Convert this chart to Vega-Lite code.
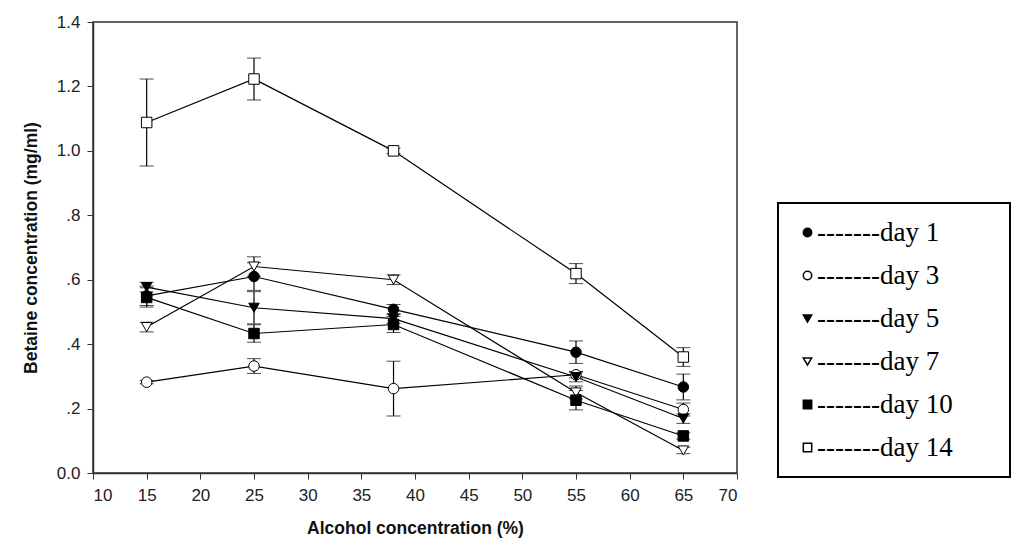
{
  "$schema": "https://vega.github.io/schema/vega-lite/v6.json",
  "width": 644,
  "height": 451,
  "autosize": {"type": "none"},
  "padding": {"left": 93, "top": 22, "right": 287, "bottom": 79},
  "background": "white",
  "data": {
    "values": [
      {"day": "day 1", "alcohol": 15, "betaine": 0.55, "sd": 0.03},
      {"day": "day 1", "alcohol": 25, "betaine": 0.61, "sd": 0.043},
      {"day": "day 1", "alcohol": 38, "betaine": 0.508, "sd": 0.015},
      {"day": "day 1", "alcohol": 55, "betaine": 0.375, "sd": 0.035},
      {"day": "day 1", "alcohol": 65, "betaine": 0.267, "sd": 0.04},
      {"day": "day 3", "alcohol": 15, "betaine": 0.282, "sd": 0.005},
      {"day": "day 3", "alcohol": 25, "betaine": 0.332, "sd": 0.023},
      {"day": "day 3", "alcohol": 38, "betaine": 0.262, "sd": 0.085},
      {"day": "day 3", "alcohol": 55, "betaine": 0.305, "sd": 0.01},
      {"day": "day 3", "alcohol": 65, "betaine": 0.197, "sd": 0.02},
      {"day": "day 5", "alcohol": 15, "betaine": 0.577, "sd": 0.015},
      {"day": "day 5", "alcohol": 25, "betaine": 0.513, "sd": 0.05},
      {"day": "day 5", "alcohol": 38, "betaine": 0.479, "sd": 0.015},
      {"day": "day 5", "alcohol": 55, "betaine": 0.298, "sd": 0.015},
      {"day": "day 5", "alcohol": 65, "betaine": 0.169, "sd": 0.015},
      {"day": "day 7", "alcohol": 15, "betaine": 0.453, "sd": 0.015},
      {"day": "day 7", "alcohol": 25, "betaine": 0.641, "sd": 0.03},
      {"day": "day 7", "alcohol": 38, "betaine": 0.6, "sd": 0.015},
      {"day": "day 7", "alcohol": 55, "betaine": 0.25, "sd": 0.02},
      {"day": "day 7", "alcohol": 65, "betaine": 0.07, "sd": 0.01},
      {"day": "day 10", "alcohol": 15, "betaine": 0.545, "sd": 0.03},
      {"day": "day 10", "alcohol": 25, "betaine": 0.433, "sd": 0.027},
      {"day": "day 10", "alcohol": 38, "betaine": 0.461, "sd": 0.025},
      {"day": "day 10", "alcohol": 55, "betaine": 0.226, "sd": 0.03},
      {"day": "day 10", "alcohol": 65, "betaine": 0.115, "sd": 0.01},
      {"day": "day 14", "alcohol": 15, "betaine": 1.088, "sd": 0.135},
      {"day": "day 14", "alcohol": 25, "betaine": 1.223, "sd": 0.065},
      {"day": "day 14", "alcohol": 38, "betaine": 1.0, "sd": 0.008},
      {"day": "day 14", "alcohol": 55, "betaine": 0.619, "sd": 0.031},
      {"day": "day 14", "alcohol": 65, "betaine": 0.36, "sd": 0.029}
    ]
  },
  "encoding": {
    "x": {
      "field": "alcohol",
      "type": "quantitative",
      "title": "Alcohol concentration (%)",
      "scale": {"domain": [10, 70], "nice": false},
      "axis": {"values": [10, 15, 20, 25, 30, 35, 40, 45, 50, 55, 60, 65, 70]}
    },
    "y": {
      "field": "betaine",
      "type": "quantitative",
      "title": "Betaine concentration (mg/ml)",
      "scale": {"domain": [0, 1.4], "nice": false},
      "axis": {
        "values": [0, 0.2, 0.4, 0.6, 0.8, 1.0, 1.2, 1.4],
        "labelExpr": "datum.value >= 1 || datum.value == 0 ? format(datum.value, '.1f') : replace(format(datum.value, '.1f'), '0.', '.')"
      }
    }
  },
  "layer": [
    {
      "mark": {"type": "line", "color": "black", "strokeWidth": 1.2},
      "encoding": {
        "detail": {"field": "day"},
        "order": {"field": "alcohol"}
      }
    },
    {
      "mark": {"type": "errorbar", "color": "black", "ticks": {"size": 14, "color": "black"}, "rule": {"strokeWidth": 1.2}},
      "encoding": {
        "y": {"field": "betaine", "type": "quantitative", "title": "Betaine concentration (mg/ml)"},
        "yError": {"field": "sd"},
        "detail": {"field": "day"}
      }
    },
    {
      "mark": {"type": "point", "filled": true, "stroke": "black", "strokeWidth": 1, "size": 110, "opacity": 1},
      "encoding": {
        "shape": {
          "field": "day",
          "type": "nominal",
          "title": null,
          "sort": ["day 1", "day 3", "day 5", "day 7", "day 10", "day 14"],
          "scale": {
            "domain": ["day 1", "day 3", "day 5", "day 7", "day 10", "day 14"],
            "range": ["circle", "circle", "triangle-down", "triangle-down", "square", "square"]
          },
          "legend": {
            "labelExpr": "'-------' + datum.label + '\u2003\u00a0\u00a0\u200b'",
            "encode": {"symbols": {"update": {"stroke": {"value": "#555"}, "strokeWidth": {"value": 1}}}}
          }
        },
        "fill": {
          "field": "day",
          "type": "nominal",
          "title": null,
          "sort": ["day 1", "day 3", "day 5", "day 7", "day 10", "day 14"],
          "scale": {
            "domain": ["day 1", "day 3", "day 5", "day 7", "day 10", "day 14"],
            "range": ["black", "white", "black", "white", "black", "white"]
          },
          "legend": {
            "labelExpr": "'-------' + datum.label + '\u2003\u00a0\u00a0\u200b'",
            "encode": {"symbols": {"update": {"stroke": {"value": "#555"}, "strokeWidth": {"value": 1}}}}
          }
        }
      }
    }
  ],
  "config": {
    "view": {"stroke": "#333", "strokeWidth": 1.5},
    "axis": {
      "grid": false,
      "domainColor": "#333",
      "domainWidth": 1.5,
      "tickColor": "#333",
      "tickSize": 6,
      "labelFont": "Liberation Sans",
      "labelFontSize": 17,
      "labelColor": "#222",
      "titleFont": "Liberation Sans",
      "titleFontSize": 17.5,
      "titleFontWeight": "bold",
      "titleColor": "#111"
    },
    "axisX": {"labelPadding": 8, "titlePadding": 16},
    "axisY": {"labelPadding": 7, "titlePadding": 16},
    "legend": {
      "orient": "none",
      "legendX": 685,
      "legendY": 181,
      "strokeColor": "black",
      "strokeWidth": 2,
      "fillColor": "white",
      "padding": 16,
      "rowPadding": 15,
      "labelFont": "Liberation Serif",
      "labelFontSize": 27,
      "labelColor": "black",
      "labelOffset": -4,
      "labelLimit": 400,
      "symbolSize": 70
    }
  }
}
